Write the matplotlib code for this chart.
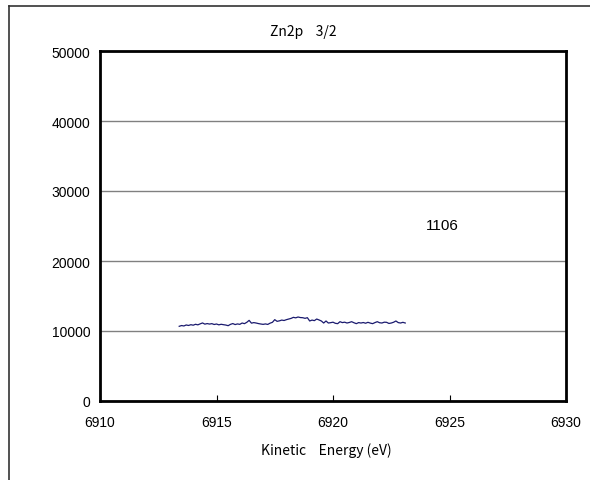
import numpy as np
import matplotlib

matplotlib.use("Agg")
import matplotlib.pyplot as plt
from matplotlib.lines import Line2D

# Zn2p 3/2 spectrum, counts (0.1 eV steps)
E_START = 6913.4
E_END = 6923.1
counts = [
    10670, 10780, 10720, 10860, 10790, 10900, 10830, 10960, 10880, 11020,
    11150, 10980, 11060, 10990, 11050, 10930, 11000, 10880, 10960, 10900,
    10850, 10760, 10950, 11060, 10920, 11010, 10950, 11140, 11050, 11240,
    11520, 11120, 11200, 11140, 11060, 11000, 10950, 11010, 10940, 11120,
    11240, 11620, 11380, 11450, 11560, 11500, 11620, 11710, 11800, 11950,
    11880, 12000, 11920, 11900, 11810, 11900, 11430, 11560, 11480, 11710,
    11580, 11430, 11140, 11430, 11140, 11190, 11260, 11100, 11050, 11330,
    11200, 11260, 11140, 11220, 11330, 11180, 11050, 11200, 11140, 11210,
    11110, 11240, 11130, 11050, 11200, 11330, 11180, 11140, 11260, 11240,
    11080, 11140, 11250, 11430, 11200, 11140, 11240, 11140,
]
energy = np.linspace(E_START, E_END, len(counts))

x_ticks = [6910, 6915, 6920, 6925, 6930]
y_ticks = [0, 10000, 20000, 30000, 40000, 50000]

TITLE = "Zn2p    3/2"
XLABEL = "Kinetic    Energy (eV)"
NOTE = "1106"

plt.rcParams["font.family"] = ["Liberation Sans", "DejaVu Sans"]
cjk = ["Noto Sans CJK JP", "DejaVu Sans"]

fig = plt.figure(figsize=(5.9, 4.81), dpi=100)
ax = fig.add_axes([100 / 590, 79 / 481, 466 / 590, 350 / 481])

ax.plot(energy, counts, color="#1a1a6e", linewidth=0.9)

ax.set_xlim(6910, 6930)
ax.set_ylim(0, 50000)
ax.set_xticks(x_ticks)
ax.set_yticks(y_ticks)
ax.tick_params(axis="x", direction="in", length=4, width=0.8, pad=10, labelsize=10)
ax.tick_params(axis="y", length=0, pad=7, labelsize=10)
ax.grid(axis="y", color="#808080", linewidth=1.0)
ax.set_axisbelow(True)
for sp in ax.spines.values():
    sp.set_linewidth(2.0)
    sp.set_color("black")

ax.text(6924.0, 25100, NOTE, fontsize=11, va="center", ha="left")

fig.text(303 / 590, 1 - 32 / 481, TITLE, ha="center", va="center",
         fontsize=10, family=cjk)
fig.text(326 / 590, 1 - 451 / 481, XLABEL, ha="center", va="center",
         fontsize=10, family=cjk)

# outer chart-area border (cut off at right and bottom)
fig.add_artist(Line2D([9 / 590, 1.0], [1 - 7 / 481, 1 - 7 / 481],
                      transform=fig.transFigure, color="#333333", linewidth=1.2))
fig.add_artist(Line2D([9 / 590, 9 / 590], [1 - 7 / 481, 0.0],
                      transform=fig.transFigure, color="#333333", linewidth=1.2))

fig.savefig("out.png", dpi=100)
